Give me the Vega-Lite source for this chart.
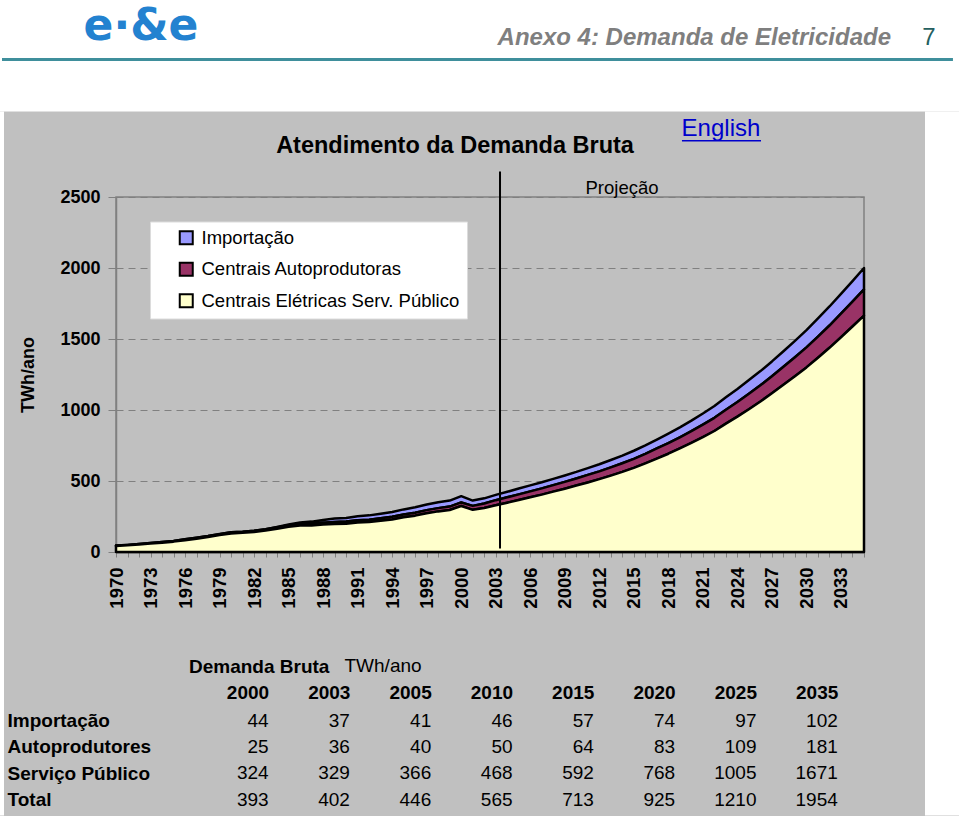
{
  "$schema": "https://vega.github.io/schema/vega-lite/v6.json",
  "background": "#c0c0c0",
  "padding": {"left": -2, "top": -2, "right": 0, "bottom": 0},
  "autosize": {"type": "pad"},
  "bounds": "flush",
  "spacing": 168.5,
  "config": {
    "font": "Liberation Sans, Arial, sans-serif",
    "view": {"stroke": "#808080", "strokeWidth": 1.5}
  },
  "vconcat": [
    {
      "width": 748,
      "height": 355,
      "resolve": {"axis": {"x": "independent", "y": "independent"}},
      "layer": [
        {
          "data": {"values": [
            {"ano":1970,"a_imp":0,"b_ap":3,"c_sp":42},
            {"ano":1971,"a_imp":0,"b_ap":3,"c_sp":47},
            {"ano":1972,"a_imp":0,"b_ap":4,"c_sp":52},
            {"ano":1973,"a_imp":0,"b_ap":4,"c_sp":59},
            {"ano":1974,"a_imp":0,"b_ap":5,"c_sp":65},
            {"ano":1975,"a_imp":0,"b_ap":5,"c_sp":73},
            {"ano":1976,"a_imp":0,"b_ap":6,"c_sp":83},
            {"ano":1977,"a_imp":0,"b_ap":6,"c_sp":94},
            {"ano":1978,"a_imp":0,"b_ap":7,"c_sp":105},
            {"ano":1979,"a_imp":0,"b_ap":7,"c_sp":119},
            {"ano":1980,"a_imp":0,"b_ap":8,"c_sp":131},
            {"ano":1981,"a_imp":0,"b_ap":8,"c_sp":135},
            {"ano":1982,"a_imp":0,"b_ap":9,"c_sp":141},
            {"ano":1983,"a_imp":0,"b_ap":9,"c_sp":151},
            {"ano":1984,"a_imp":2,"b_ap":10,"c_sp":164},
            {"ano":1985,"a_imp":5,"b_ap":10,"c_sp":178},
            {"ano":1986,"a_imp":10,"b_ap":11,"c_sp":186},
            {"ano":1987,"a_imp":15,"b_ap":12,"c_sp":187},
            {"ano":1988,"a_imp":20,"b_ap":13,"c_sp":193},
            {"ano":1989,"a_imp":24,"b_ap":14,"c_sp":198},
            {"ano":1990,"a_imp":26,"b_ap":15,"c_sp":199},
            {"ano":1991,"a_imp":28,"b_ap":16,"c_sp":208},
            {"ano":1992,"a_imp":30,"b_ap":17,"c_sp":211},
            {"ano":1993,"a_imp":32,"b_ap":18,"c_sp":220},
            {"ano":1994,"a_imp":34,"b_ap":19,"c_sp":229},
            {"ano":1995,"a_imp":36,"b_ap":20,"c_sp":244},
            {"ano":1996,"a_imp":38,"b_ap":21,"c_sp":256},
            {"ano":1997,"a_imp":40,"b_ap":22,"c_sp":273},
            {"ano":1998,"a_imp":41,"b_ap":23,"c_sp":286},
            {"ano":1999,"a_imp":42,"b_ap":24,"c_sp":296},
            {"ano":2000,"a_imp":44,"b_ap":25,"c_sp":324},
            {"ano":2001,"a_imp":37,"b_ap":28,"c_sp":297},
            {"ano":2002,"a_imp":36,"b_ap":32,"c_sp":310},
            {"ano":2003,"a_imp":37,"b_ap":36,"c_sp":329},
            {"ano":2004,"a_imp":39,"b_ap":38,"c_sp":347},
            {"ano":2005,"a_imp":41,"b_ap":40,"c_sp":366},
            {"ano":2006,"a_imp":42,"b_ap":42,"c_sp":385},
            {"ano":2007,"a_imp":43,"b_ap":44,"c_sp":404},
            {"ano":2008,"a_imp":44,"b_ap":46,"c_sp":425},
            {"ano":2009,"a_imp":45,"b_ap":48,"c_sp":446},
            {"ano":2010,"a_imp":46,"b_ap":50,"c_sp":468},
            {"ano":2011,"a_imp":48,"b_ap":53,"c_sp":490},
            {"ano":2012,"a_imp":50,"b_ap":55,"c_sp":513},
            {"ano":2013,"a_imp":52,"b_ap":58,"c_sp":538},
            {"ano":2014,"a_imp":54,"b_ap":61,"c_sp":564},
            {"ano":2015,"a_imp":57,"b_ap":64,"c_sp":592},
            {"ano":2016,"a_imp":60,"b_ap":67,"c_sp":624},
            {"ano":2017,"a_imp":63,"b_ap":71,"c_sp":658},
            {"ano":2018,"a_imp":67,"b_ap":75,"c_sp":692},
            {"ano":2019,"a_imp":70,"b_ap":79,"c_sp":729},
            {"ano":2020,"a_imp":74,"b_ap":83,"c_sp":768},
            {"ano":2021,"a_imp":78,"b_ap":88,"c_sp":809},
            {"ano":2022,"a_imp":83,"b_ap":93,"c_sp":852},
            {"ano":2023,"a_imp":87,"b_ap":98,"c_sp":904},
            {"ano":2024,"a_imp":92,"b_ap":103,"c_sp":953},
            {"ano":2025,"a_imp":97,"b_ap":109,"c_sp":1005},
            {"ano":2026,"a_imp":100,"b_ap":114,"c_sp":1060},
            {"ano":2027,"a_imp":104,"b_ap":120,"c_sp":1118},
            {"ano":2028,"a_imp":109,"b_ap":127,"c_sp":1178},
            {"ano":2029,"a_imp":115,"b_ap":134,"c_sp":1238},
            {"ano":2030,"a_imp":122,"b_ap":141,"c_sp":1300},
            {"ano":2031,"a_imp":128,"b_ap":149,"c_sp":1368},
            {"ano":2032,"a_imp":134,"b_ap":157,"c_sp":1438},
            {"ano":2033,"a_imp":140,"b_ap":166,"c_sp":1512},
            {"ano":2034,"a_imp":145,"b_ap":175,"c_sp":1588},
            {"ano":2035,"a_imp":150,"b_ap":185,"c_sp":1665}
          ]},
          "transform": [{"fold": ["a_imp", "b_ap", "c_sp"], "as": ["serie", "valor"]}],
          "mark": {"type": "area", "stroke": "black", "strokeWidth": 2.5, "strokeJoin": "round", "opacity": 1},
          "encoding": {
            "x": {
              "field": "ano", "type": "quantitative",
              "scale": {"domain": [1970, 2035], "nice": false, "zero": false},
              "axis": {
                "title": null,
                "values": [1970,1971,1972,1973,1974,1975,1976,1977,1978,1979,1980,1981,1982,1983,1984,1985,1986,1987,1988,1989,1990,1991,1992,1993,1994,1995,1996,1997,1998,1999,2000,2001,2002,2003,2004,2005,2006,2007,2008,2009,2010,2011,2012,2013,2014,2015,2016,2017,2018,2019,2020,2021,2022,2023,2024,2025,2026,2027,2028,2029,2030,2031,2032,2033,2034,2035],
                "format": "d",
                "labelExpr": "(datum.value - 1970) % 3 == 0 && datum.value <= 2033 ? datum.label : ''",
                "labelAngle": -90,
                "labelFontSize": 18.5,
                "labelFontWeight": "bold",
                "labelColor": "black",
                "labelPadding": 10,
                "labelFlush": false,
                "labelOverlap": false,
                "labelBound": false,
                "tickSize": 5,
                "tickColor": "#808080",
                "domainColor": "#404040",
                "domainWidth": 1.5,
                "grid": false
              }
            },
            "y": {
              "field": "valor", "type": "quantitative", "stack": "zero",
              "scale": {"domain": [0, 2500], "nice": false},
              "axis": {
                "title": "TWh/ano",
                "titleFontSize": 18,
                "titleFontWeight": "bold",
                "titleColor": "black",
                "titlePadding": 22,
                "values": [0, 500, 1000, 1500, 2000, 2500],
                "format": "d",
                "labelFontSize": 18,
                "labelFontWeight": "bold",
                "labelColor": "black",
                "labelPadding": 8,
                "tickSize": 8,
                "tickColor": "#808080",
                "domainColor": "#808080",
                "domainWidth": 1.5,
                "grid": true,
                "gridDash": [7, 5],
                "gridColor": "#808080",
                "gridWidth": 1
              }
            },
            "color": {
              "field": "serie", "type": "nominal",
              "scale": {"domain": ["a_imp", "b_ap", "c_sp"], "range": ["#9999FF", "#993366", "#FFFFCC"]},
              "legend": {
                "orient": "none", "legendX": 34, "legendY": 24.5,
                "title": null,
                "labelExpr": "datum.value == 'a_imp' ? 'Importação' : datum.value == 'b_ap' ? 'Centrais Autoprodutoras' : 'Centrais Elétricas Serv. Público'",
                "fillColor": "white", "strokeColor": "#dcdcdc",
                "padding": 7,
                "symbolOffset": 20,
                "rowPadding": 9.5,
                "labelFontSize": 18.5,
                "labelColor": "black",
                "labelOffset": 6,
                "labelLimit": 400,
                "symbolType": "square",
                "symbolSize": 169,
                "symbolStrokeColor": "black",
                "symbolStrokeWidth": 2,
                "symbolOpacity": 1
              }
            }
          }
        },
        {
          "data": {"values": [{}]},
          "mark": {"type": "rule", "color": "black", "strokeWidth": 2},
          "encoding": {
            "x": {"datum": 2003.37, "type": "quantitative", "axis": null},
            "y": {"datum": 24.6, "type": "quantitative", "axis": null},
            "y2": {"datum": 2679.6}
          }
        },
        {
          "data": {"values": [{}]},
          "mark": {"type": "rect", "fill": "white", "strokeWidth": 0},
          "encoding": {
            "x": {"datum": 1959.834, "type": "quantitative", "axis": null},
            "x2": {"datum": 2043.342},
            "y": {"datum": 3890.74, "type": "quantitative", "axis": null},
            "y2": {"datum": 3102.11}
          }
        },
        {
          "data": {"values": [{}]},
          "mark": {"type": "rect", "fill": "white", "strokeWidth": 0},
          "encoding": {
            "x": {"datum": 1959.834, "type": "quantitative", "axis": null},
            "x2": {"datum": 1960.267},
            "y": {"datum": 3102.11, "type": "quantitative", "axis": null},
            "y2": {"datum": -1855.63}
          }
        },
        {
          "data": {"values": [{}]},
          "mark": {"type": "rect", "fill": "white", "strokeWidth": 0},
          "encoding": {
            "x": {"datum": 2040.30, "type": "quantitative", "axis": null},
            "x2": {"datum": 2043.342},
            "y": {"datum": 3102.11, "type": "quantitative", "axis": null},
            "y2": {"datum": -1855.63}
          }
        },
        {
          "data": {"values": [{}]},
          "mark": {"type": "rule", "color": "#3f8f9c", "strokeWidth": 3},
          "encoding": {
            "x": {"datum": 1960.094, "type": "quantitative", "axis": null},
            "x2": {"datum": 2042.73},
            "y": {"datum": 3468.3, "type": "quantitative", "axis": null}
          }
        },
        {
          "data": {"values": [{}]},
          "mark": {"type": "text", "text": "e·&e", "font": "DejaVu Sans", "fontWeight": "bold", "fontSize": 44, "fill": "#2382d0", "align": "center", "baseline": "middle"},
          "encoding": {
            "x": {"datum": 1972.17, "type": "quantitative", "axis": null},
            "y": {"datum": 3700.7, "type": "quantitative", "axis": null}
          }
        },
        {
          "data": {"values": [{}]},
          "mark": {"type": "text", "text": "Anexo 4: Demanda de Eletricidade", "fontWeight": "bold", "fontStyle": "italic", "fontSize": 24, "fill": "#7f7f7f", "align": "right", "baseline": "middle"},
          "encoding": {
            "x": {"datum": 2037.35, "type": "quantitative", "axis": null},
            "y": {"datum": 3623.2, "type": "quantitative", "axis": null}
          }
        },
        {
          "data": {"values": [{}]},
          "mark": {"type": "text", "text": "7", "fontSize": 24, "fill": "#255f5f", "align": "center", "baseline": "middle"},
          "encoding": {
            "x": {"datum": 2040.65, "type": "quantitative", "axis": null},
            "y": {"datum": 3623.2, "type": "quantitative", "axis": null}
          }
        },
        {
          "data": {"values": [{}]},
          "mark": {"type": "text", "text": "Atendimento da Demanda Bruta", "fontWeight": "bold", "fontSize": 23.5, "fill": "black", "align": "center", "baseline": "middle"},
          "encoding": {
            "x": {"datum": 1999.46, "type": "quantitative", "axis": null},
            "y": {"datum": 2860, "type": "quantitative", "axis": null}
          }
        },
        {
          "data": {"values": [{}]},
          "mark": {"type": "text", "text": "English", "fontSize": 24, "fill": "#0000CC", "align": "center", "baseline": "middle"},
          "encoding": {
            "x": {"datum": 2022.57, "type": "quantitative", "axis": null},
            "y": {"datum": 2980, "type": "quantitative", "axis": null}
          }
        },
        {
          "data": {"values": [{}]},
          "mark": {"type": "rule", "color": "#0000CC", "strokeWidth": 1.5},
          "encoding": {
            "x": {"datum": 2019.18, "type": "quantitative", "axis": null},
            "x2": {"datum": 2026.05},
            "y": {"datum": 2897, "type": "quantitative", "axis": null}
          }
        },
        {
          "data": {"values": [{}]},
          "mark": {"type": "text", "text": "Projeção", "fontSize": 18.5, "fill": "black", "align": "center", "baseline": "middle"},
          "encoding": {
            "x": {"datum": 2013.97, "type": "quantitative", "axis": null},
            "y": {"datum": 2560, "type": "quantitative", "axis": null}
          }
        }
      ]
    },
    {
      "width": 731.8,
      "height": 79,
      "view": {"stroke": null},
      "title": {"text": "Demanda Bruta", "anchor": "start", "frame": "group", "dx": 73, "fontSize": 19, "fontWeight": "bold", "color": "black", "offset": 0, "dy": 20},
      "data": {"values": [
        {"linha":"Importação","ano":"2000","valor":44},
        {"linha":"Importação","ano":"2003","valor":37},
        {"linha":"Importação","ano":"2005","valor":41},
        {"linha":"Importação","ano":"2010","valor":46},
        {"linha":"Importação","ano":"2015","valor":57},
        {"linha":"Importação","ano":"2020","valor":74},
        {"linha":"Importação","ano":"2025","valor":97},
        {"linha":"Importação","ano":"2035","valor":102},
        {"linha":"Autoprodutores","ano":"2000","valor":25},
        {"linha":"Autoprodutores","ano":"2003","valor":36},
        {"linha":"Autoprodutores","ano":"2005","valor":40},
        {"linha":"Autoprodutores","ano":"2010","valor":50},
        {"linha":"Autoprodutores","ano":"2015","valor":64},
        {"linha":"Autoprodutores","ano":"2020","valor":83},
        {"linha":"Autoprodutores","ano":"2025","valor":109},
        {"linha":"Autoprodutores","ano":"2035","valor":181},
        {"linha":"Serviço Público","ano":"2000","valor":324},
        {"linha":"Serviço Público","ano":"2003","valor":329},
        {"linha":"Serviço Público","ano":"2005","valor":366},
        {"linha":"Serviço Público","ano":"2010","valor":468},
        {"linha":"Serviço Público","ano":"2015","valor":592},
        {"linha":"Serviço Público","ano":"2020","valor":768},
        {"linha":"Serviço Público","ano":"2025","valor":1005},
        {"linha":"Serviço Público","ano":"2035","valor":1671},
        {"linha":"Total","ano":"2000","valor":393},
        {"linha":"Total","ano":"2003","valor":402},
        {"linha":"Total","ano":"2005","valor":446},
        {"linha":"Total","ano":"2010","valor":565},
        {"linha":"Total","ano":"2015","valor":713},
        {"linha":"Total","ano":"2020","valor":925},
        {"linha":"Total","ano":"2025","valor":1210},
        {"linha":"Total","ano":"2035","valor":1954}
      ]},
      "mark": {"type": "text", "align": "right", "baseline": "middle", "fontSize": 19, "fill": "black"},
      "encoding": {
        "x": {
          "field": "ano", "type": "ordinal",
          "scale": {"type": "point", "padding": 1, "align": 0.9385},
          "axis": {
            "orient": "top",
            "title": "TWh/ano",
            "titleFontSize": 19,
            "titleFontWeight": "normal",
            "titleColor": "black",
            "titleAnchor": "start",
            "titleAlign": "left",
            "titleBaseline": "middle",
            "titleX": 228,
            "titleY": -55,
            "labelFontSize": 19,
            "labelFontWeight": "bold",
            "labelColor": "black",
            "labelAngle": 0,
            "labelAlign": "right",
            "labelBaseline": "middle",
            "labelPadding": 28,
            "ticks": false,
            "tickSize": 0,
            "domain": false,
            "grid": false
          }
        },
        "y": {
          "field": "linha", "type": "nominal",
          "sort": ["Importação", "Autoprodutores", "Serviço Público", "Total"],
          "scale": {"type": "point", "padding": 0},
          "axis": {
            "title": null,
            "labelAlign": "left",
            "labelBaseline": "middle",
            "labelPadding": 109,
            "labelFontSize": 19,
            "labelFontWeight": "bold",
            "labelColor": "black",
            "ticks": false,
            "tickSize": 0,
            "domain": false,
            "grid": false
          }
        },
        "text": {"field": "valor", "type": "quantitative", "format": "d"}
      }
    }
  ]
}
